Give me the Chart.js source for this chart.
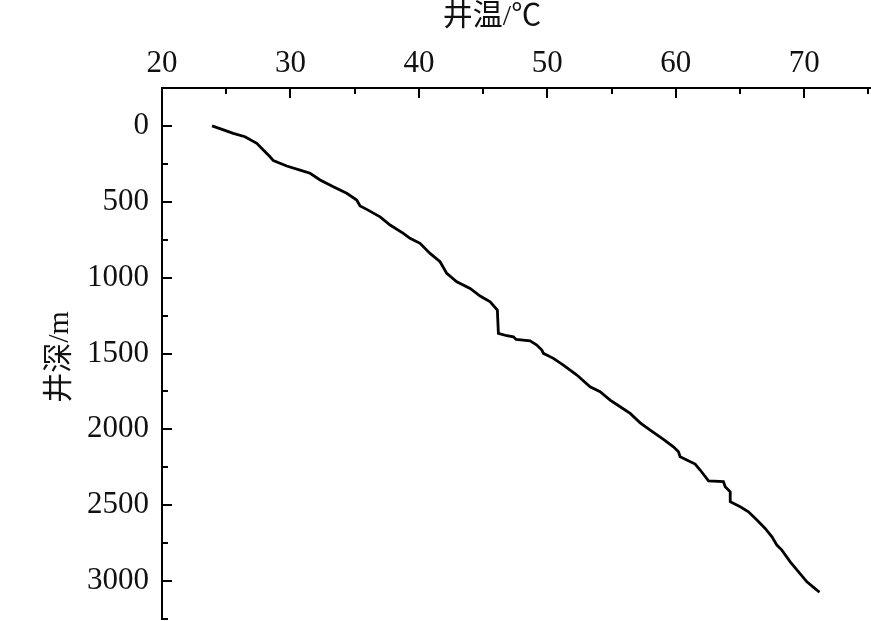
<!DOCTYPE html>
<html>
<head>
<meta charset="utf-8">
<script src="https://cdn.jsdelivr.net/npm/chart.js@4.4.1/dist/chart.umd.min.js"></script>
<style>
html,body{margin:0;padding:0;background:#fff;}
#wrap{width:871px;height:621px;}
</style>
</head>
<body>
<div id="wrap"><canvas id="c" width="871" height="621"></canvas></div>
<script>
// Well temperature (°C) and depth (m)
const temperatures = [23.9,25.55,26.46,27.38,27.89,28.41,28.67,29.71,30.75,31.53,32.31,33.34,34.38,35.16,35.42,35.94,36.98,37.76,38.79,39.31,40.09,40.87,41.65,42.17,42.95,43.99,44.77,45.55,46.11,46.19,46.85,47.36,47.57,48.66,49.18,49.57,49.70,50.47,51.25,52.30,53.33,54.11,54.89,55.67,56.45,57.23,58.01,59.04,59.82,60.21,60.34,60.86,61.51,61.90,62.55,63.71,63.85,64.24,64.24,65.02,65.66,66.32,66.96,67.49,67.87,68.26,68.91,69.56,70.21,70.73,71.19];
const depths = [0,49,71,115,159,203,229,264,291,312,356,401,444,488,528,550,599,653,708,741,774,840,895,972,1027,1071,1121,1159,1214,1367,1383,1390,1407,1416,1444,1477,1499,1532,1576,1642,1719,1752,1807,1851,1895,1957,2005,2066,2115,2148,2181,2202,2229,2268,2339,2345,2378,2411,2477,2510,2543,2598,2653,2708,2763,2796,2873,2939,3005,3041,3074];

const xTicks = [20,30,40,50,60,70];
const xMinorTicks = [25,35,45,55,65,75];
const yTicks = [0,500,1000,1500,2000,2500,3000];
const yMinorTicks = [250,750,1250,1750,2250,2750,3250];

const xTitle = '井温/℃';
const yTitle = '井深/m';

const points = temperatures.map((t,i)=>({x:t, y:depths[i]}));

const tickFont = {family:"'Liberation Serif', 'Times New Roman', serif", size:31};

const inwardTicks = {
  id:'inwardTicks',
  afterDraw(chart){
    const ctx = chart.ctx;
    const xs = chart.scales.x, ys = chart.scales.y;
    const top = chart.chartArea.top, left = chart.chartArea.left;
    ctx.save();
    ctx.strokeStyle = '#000';
    ctx.lineWidth = 2;
    ctx.beginPath();
    xTicks.forEach(v=>{const p=Math.round(xs.getPixelForValue(v)); ctx.moveTo(p, top); ctx.lineTo(p, top+10);});
    xMinorTicks.forEach(v=>{const p=Math.round(xs.getPixelForValue(v)); ctx.moveTo(p, top); ctx.lineTo(p, top+6);});
    yTicks.forEach(v=>{const p=Math.round(ys.getPixelForValue(v)); ctx.moveTo(left, p); ctx.lineTo(left+10, p);});
    yMinorTicks.forEach(v=>{const p=Math.round(ys.getPixelForValue(v)); ctx.moveTo(left, p); ctx.lineTo(left+6, p);});
    ctx.stroke();
    // titles
    ctx.fillStyle = '#111';
    ctx.font = "30px 'Liberation Serif', 'Noto Sans CJK SC', serif";
    ctx.textAlign = 'center';
    ctx.textBaseline = 'middle';
    ctx.fillText(xTitle, 492, 17);
    ctx.translate(60, 357);
    ctx.rotate(-Math.PI/2);
    ctx.fillText(yTitle, 0, 0);
    ctx.restore();
  }
};

new Chart(document.getElementById('c'), {
  type:'line',
  data:{datasets:[{
    data:points,
    borderColor:'#000',
    borderWidth:2.8,
    pointRadius:0,
    tension:0,
    fill:false
  }]},
  options:{
    responsive:false,
    animation:false,
    layout:{padding:{left:0,right:0,top:0,bottom:2}},
    plugins:{legend:{display:false},tooltip:{enabled:false},title:{display:false}},
    scales:{
      x:{
        type:'linear',
        position:'top',
        min:20,
        max:75.2,
        grid:{display:false, drawTicks:false},
        border:{display:true,color:'#000',width:2},
        ticks:{color:'#111',font:tickFont,padding:6,autoSkip:false,maxRotation:0,callback:v=>String(v)},
        afterBuildTicks(s){ s.ticks = xTicks.map(v=>({value:v})); },
        afterFit(s){ s.height = 88; s.paddingLeft = 0; s.paddingRight = 0; }
      },
      y:{
        type:'linear',
        reverse:true,
        min:-250,
        max:3250,
        grid:{display:false, drawTicks:false},
        border:{display:true,color:'#000',width:2},
        ticks:{color:'#111',font:tickFont,padding:13,autoSkip:false,callback:v=>String(v)},
        afterBuildTicks(s){ s.ticks = yTicks.map(v=>({value:v})); },
        afterFit(s){ s.width = 162; s.paddingTop = 0; s.paddingBottom = 0; }
      }
    }
  },
  plugins:[inwardTicks]
});
</script>
</body>
</html>
